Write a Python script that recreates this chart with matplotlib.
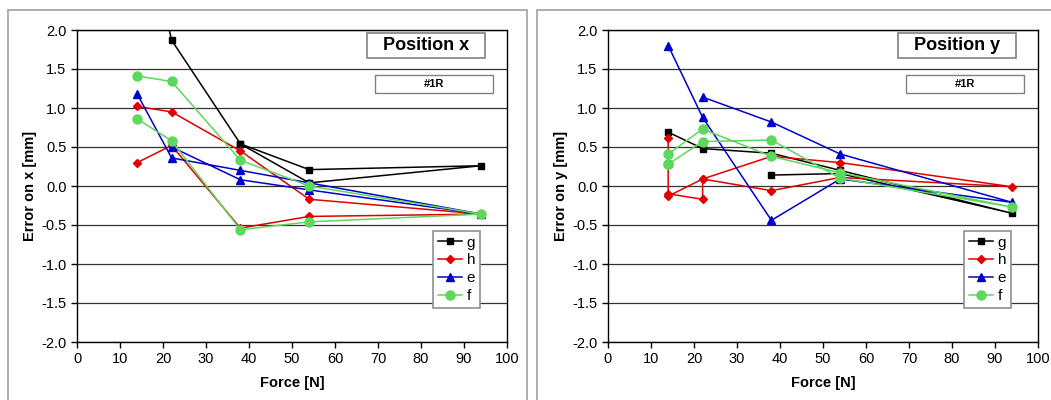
import matplotlib
matplotlib.use('Agg')
import matplotlib.pyplot as plt
from matplotlib.patches import Rectangle

plt.rcParams['font.family'] = ['Liberation Sans', 'DejaVu Sans']

# Position x data (loading then unloading)
force_x_g = [14, 22, 38, 54, 94, 54, 38]
err_x_g = [3.8, 1.87, 0.54, 0.04, 0.26, 0.21, 0.54]
force_x_h = [14, 22, 38, 54, 94, 54, 38, 22, 14]
err_x_h = [1.02, 0.95, 0.45, -0.17, -0.36, -0.39, -0.54, 0.52, 0.30]
force_x_e = [14, 22, 38, 54, 94, 54, 38, 22]
err_x_e = [1.18, 0.36, 0.20, 0.04, -0.36, -0.05, 0.08, 0.50]
force_x_f = [14, 22, 38, 54, 94, 54, 38, 22, 14]
err_x_f = [1.41, 1.34, 0.33, 0.00, -0.36, -0.46, -0.56, 0.58, 0.86]

# Position y data
force_y_g = [14, 22, 38, 54, 94, 54, 38]
err_y_g = [0.69, 0.48, 0.42, 0.20, -0.35, 0.16, 0.14]
force_y_h = [14, 14, 22, 22, 38, 54, 94, 54, 38, 22, 14]
err_y_h = [0.61, -0.10, -0.17, 0.09, -0.06, 0.11, -0.01, 0.30, 0.38, 0.09, -0.13]
force_y_e = [14, 22, 38, 54, 94, 54, 38, 22]
err_y_e = [1.80, 0.88, -0.44, 0.09, -0.21, 0.41, 0.82, 1.14]
force_y_f = [14, 14, 22, 38, 54, 94, 54, 38, 22, 14]
err_y_f = [0.28, 0.41, 0.73, 0.38, 0.17, -0.27, 0.10, 0.59, 0.57, 0.28]

labels = ['g', 'h', 'e', 'f']
colors = ['black', '#e00000', '#0000cc', '#5cd85c']
markers = ['s', 'D', '^', 'o']
msizes = [5, 4.5, 5.5, 6.5]

W, H = 1051, 400
fig = plt.figure(figsize=(W / 100, H / 100), dpi=100)

# chart area frames
for x0, x1 in [(8, 527), (537, 1056)]:
    fig.patches.append(Rectangle((x0 / W, -0.05), (x1 - x0) / W, (H - 10) / H + 0.05,
                                 transform=fig.transFigure, fill=False,
                                 edgecolor='#a8a8a8', linewidth=1.3))

panels = [
    (77, 'Error on x [mm]', 'Position x',
     [(force_x_g, err_x_g), (force_x_h, err_x_h), (force_x_e, err_x_e), (force_x_f, err_x_f)]),
    (608, 'Error on y [mm]', 'Position y',
     [(force_y_g, err_y_g), (force_y_h, err_y_h), (force_y_e, err_y_e), (force_y_f, err_y_f)]),
]

for left, ylab, title, series in panels:
    ax = fig.add_axes([left / W, (H - 342) / H, 430 / W, 312 / H])
    for (fx, ey), lab, c, m, ms in zip(series, labels, colors, markers, msizes):
        ax.plot(fx, ey, color=c, marker=m, markersize=ms, linewidth=1.1, label=lab)
    ax.set_xlim(0, 100)
    ax.set_ylim(-2.0, 2.0)
    ax.set_xticks(range(0, 101, 10))
    ax.set_yticks([-2.0, -1.5, -1.0, -0.5, 0.0, 0.5, 1.0, 1.5, 2.0])
    ax.set_yticklabels(['%.1f' % v for v in ax.get_yticks()])
    ax.tick_params(direction='out', length=4, width=1, labelsize=10.5, color='black')
    ax.grid(axis='y', color='#333333', linewidth=0.9)
    ax.set_axisbelow(True)
    for sp in ax.spines.values():
        sp.set_color('black')
        sp.set_linewidth(1.0)
    ax.set_ylabel(ylab, fontsize=10.5, fontweight='bold', labelpad=3)
    ax.set_xlabel('Force [N]', fontsize=10.5, fontweight='bold', labelpad=7)

    # title boxes
    bx = left + 290
    fig.patches.append(Rectangle((bx / W, 1 - 58 / H), 118 / W, 25 / H,
                                 transform=fig.transFigure, fc='white',
                                 ec='#808080', linewidth=1.2, zorder=5))
    fig.patches.append(Rectangle(((bx + 8) / W, 1 - 93 / H), 118 / W, 18 / H,
                                 transform=fig.transFigure, fc='white',
                                 ec='#808080', linewidth=1.0, zorder=5))
    fig.text((bx + 59) / W, 1 - 46 / H, title, ha='center', va='center',
             fontsize=13, fontweight='bold', zorder=6)
    fig.text((bx + 67) / W, 1 - 84 / H, '#1R', ha='center', va='center',
             fontsize=8, fontweight='bold', zorder=6)

    leg = ax.legend(loc='upper left', bbox_to_anchor=((left + 356) / W, 1 - 231 / H),
                    bbox_transform=fig.transFigure, borderaxespad=0, fancybox=False,
                    framealpha=1, edgecolor='#909090', fontsize=11, handlelength=1.6,
                    handletextpad=0.3, labelspacing=0.25, borderpad=0.3)
    leg.get_frame().set_linewidth(1.2)

plt.savefig('out.png', dpi=100)
plt.close(fig)
